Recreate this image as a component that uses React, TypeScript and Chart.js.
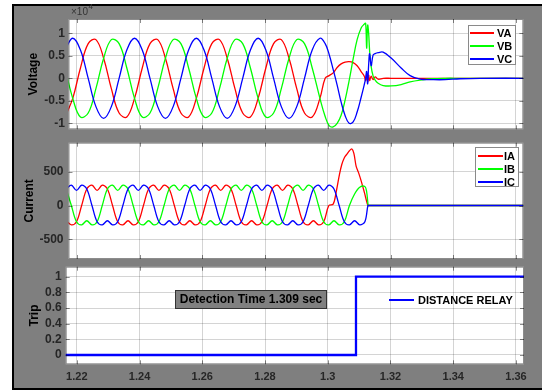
import React, { useEffect, useRef } from 'react';
import { Chart, registerables } from 'chart.js';

Chart.register(...registerables);
Chart.defaults.font.family = '"Liberation Sans", Arial, Helvetica, sans-serif';

// ---------- tick labels ----------
const timeTicks = [1.22, 1.24, 1.26, 1.28, 1.3, 1.32, 1.34, 1.36];
const voltageTicks = [-10000, -5000, 0, 5000, 10000];
const currentTicks = [-500, 0, 500];
const tripTicks = [0, 0.2, 0.4, 0.6, 0.8, 1];

// ---------- voltages (V) ----------
const voltageTime = [
  1.21624, 1.2187, 1.22116, 1.22363, 1.22609, 1.22855, 1.23101, 1.23348, 1.23594,
  1.2384, 1.24086, 1.24333, 1.24579, 1.24825, 1.25071, 1.25318, 1.25564,
  1.2581, 1.26056, 1.26303, 1.26549, 1.26795, 1.27041, 1.27288, 1.27534,
  1.2778, 1.28026, 1.28273, 1.28519, 1.28765, 1.29011, 1.29258, 1.29504,
  1.2975,
  1.29917, 1.30044, 1.30171, 1.30299, 1.30426, 1.30554, 1.30681, 1.30809, 1.30936, 1.31064,
  1.3116, 1.31207, 1.31239, 1.31271, 1.31303, 1.31335, 1.31383, 1.31446, 1.3151, 1.31606,
  1.31765, 1.3202, 1.32339, 1.32625, 1.32944, 1.33327, 1.33741, 1.34219, 1.34856, 1.365,
];
const vaValues = [
  -8600,
  -4450, 2300, 7710, 8600, 4450, -2300, -7710, -8600,
  -4450, 2300, 7710, 8600, 4450, -2300, -7710, -8600,
  -4450, 2300, 7710, 8600, 4450, -2300, -7710, -8600,
  -4450, 2300, 7710, 8600, 4450, -2300, -7710, -8600,
  -4450,
  0, 600, 1200, 2400, 3200, 3600, 3700, 3500, 2800, 1500,
  500, -500, 900, -800, 700, -500, 500, -300, 300, -200,
  0, 0, 0, 0, 0, 0, 0, 0, 0, 0,
];
const vbValues = [
  2300,
  -4450, -8600, -7710, -2300, 4450, 8600, 7710, 2300,
  -4450, -8600, -7710, -2300, 4450, 8600, 7710, 2300,
  -4450, -8600, -7710, -2300, 4450, 8600, 7710, 2300,
  -4450, -8600, -7710, -2300, 4450, 8600, 7710, 2300,
  -4450,
  -8500, -10500, -10800, -10000, -8200, -4800, -500, 4300, 8600, 11200,
  12000, 12200, 6700, 11800, 10000, 6000, 2600, 500, -400, -1100,
  -1600, -1700, -1400, -800, -400, -100, 0, 0, 0, 0,
];
const vcValues = [
  6290,
  8900, 6290, 0, -6290, -8900, -6290, 0, 6290,
  8900, 6290, 0, -6290, -8900, -6290, 0, 6290,
  8900, 6290, 0, -6290, -8900, -6290, 0, 6290,
  8900, 6290, 0, -6290, -8900, -6290, 0, 6290,
  8900,
  7700, 5300, 2000, -1500, -5300, -8300, -10000, -9700, -7500, -4200,
  -1500, 0, 1500, -1200, 3000, 5500, 2800, 5200, 5500, 5700,
  5800, 4500, 2300, 600, -200, -300, -300, -100, 0, 0,
];

// ---------- currents (A), before the fault ----------
const currentTime = [
  1.21662, 1.21826, 1.2199, 1.22154, 1.22318, 1.22483, 1.22647, 1.22811, 1.22975, 1.23139, 1.23303, 1.23468, 1.23632, 1.23796,
  1.2396, 1.24124, 1.24288, 1.24453, 1.24617, 1.24781, 1.24945, 1.25109, 1.25273, 1.25438, 1.25602, 1.25766,
  1.2593, 1.26094, 1.26258, 1.26423, 1.26587, 1.26751, 1.26915, 1.27079, 1.27243, 1.27408, 1.27572, 1.27736,
  1.279, 1.28064, 1.28228, 1.28393, 1.28557, 1.28721, 1.28885, 1.29049, 1.29213, 1.29378, 1.29542, 1.29706,
  1.2987,
];
const iaValues = [
  -225, -285,
  -240, 0, 245, 300, 225, 300, 245, 0, -240, -285, -225, -285,
  -240, 0, 245, 300, 225, 300, 245, 0, -240, -285, -225, -285,
  -240, 0, 245, 300, 225, 300, 245, 0, -240, -285, -225, -285,
  -240, 0, 245, 300, 225, 300, 245, 0, -240, -285, -225, -285,
  -240,
];
const ibValues = [
  245, 0,
  -240, -285, -225, -285, -240, 0, 245, 300, 225, 300, 245, 0,
  -240, -285, -225, -285, -240, 0, 245, 300, 225, 300, 245, 0,
  -240, -285, -225, -285, -240, 0, 245, 300, 225, 300, 245, 0,
  -240, -285, -225, -285, -240, 0, 245, 300, 225, 300, 245, 0,
  -240,
];
const icValues = [
  245, 300,
  225, 300, 245, 0, -240, -285, -225, -285, -240, 0, 245, 300,
  225, 300, 245, 0, -240, -285, -225, -285, -240, 0, 245, 300,
  225, 300, 245, 0, -240, -285, -225, -285, -240, 0, 245, 300,
  225, 300, 245, 0, -240, -285, -225, -285, -240, 0, 245, 300,
  225,
];

// ---------- currents (A), fault and breaker opening ----------
const iaFaultTime = [1.30034, 1.30172, 1.30268, 1.30373, 1.30449, 1.30532, 1.30618, 1.30691, 1.30768, 1.30832, 1.30905, 1.30978, 1.31064, 1.31169, 1.31277, 1.3131, 1.3136, 1.3145, 1.365];
const iaFaultValues = [0, 20, 200, 460, 610, 710, 765, 810, 835, 770, 580, 490, 365, 190, 0, 0, 0, 0, 0];
const ibFaultTime = [1.30034, 1.30198, 1.30363, 1.30527, 1.30691, 1.30855, 1.31019, 1.31183, 1.3124, 1.3129, 1.3132, 1.3137, 1.3146, 1.365];
const ibFaultValues = [-285, -225, -285, -240, 0, 170, 270, 280, 200, 0, 0, 0, 0, 0];
const icFaultTime = [1.30034, 1.30198, 1.30363, 1.30527, 1.30691, 1.30855, 1.31019, 1.31183, 1.3128, 1.3131, 1.3136, 1.3145, 1.365];
const icFaultValues = [300, 245, 0, -240, -285, -225, -285, -240, 0, 0, 0, 0, 0];

// ---------- trip signal ----------
const tripTime = [1.2, 1.309, 1.309, 1.4];
const tripValues = [0, 0, 1, 1];

const pts = (t: number[], v: number[]) => t.map((x, i) => ({ x, y: v[i] }));

const GRID = 'rgba(0,0,0,0.17)';
const TICK_COLOR = '#262626';

const framePlugin = {
  id: 'matlabFrame',
  beforeDraw(chart: any) {
    const { ctx, chartArea: a } = chart;
    ctx.save();
    ctx.fillStyle = '#ffffff';
    ctx.fillRect(a.left, a.top, a.right - a.left, a.bottom - a.top);
    ctx.restore();
  },
  afterDraw(chart: any) {
    const { ctx, chartArea: a, scales } = chart;
    ctx.save();
    ctx.strokeStyle = 'rgba(0,0,0,0.45)';
    ctx.lineWidth = 1;
    ctx.strokeRect(a.left + 0.5, a.top + 0.5, a.right - a.left - 1, a.bottom - a.top - 1);
    const L = 4;
    ctx.beginPath();
    scales.x.ticks.forEach((t: any) => {
      const p = Math.round(scales.x.getPixelForValue(t.value)) + 0.5;
      ctx.moveTo(p, a.bottom); ctx.lineTo(p, a.bottom - L);
      ctx.moveTo(p, a.top); ctx.lineTo(p, a.top + L);
    });
    scales.y.ticks.forEach((t: any) => {
      const p = Math.round(scales.y.getPixelForValue(t.value)) + 0.5;
      ctx.moveTo(a.left, p); ctx.lineTo(a.left + L, p);
      ctx.moveTo(a.right, p); ctx.lineTo(a.right - L, p);
    });
    ctx.stroke();
    ctx.restore();
  },
};

type PanelCfg = {
  datasets: any[];
  yMin: number; yMax: number; yTicks: number[]; yFmt: (v: number) => string;
  title: string; titlePad: number; yWidth: number; yPad: number;
  xMin: number; xMax: number; showX: boolean; xHeight: number;
  padding: { top: number; right: number; bottom: number; left: number };
};

function buildConfig(c: PanelCfg): any {
  return {
    type: 'line',
    data: { datasets: c.datasets },
    plugins: [framePlugin],
    options: {
      responsive: false,
      animation: false,
      devicePixelRatio: 1,
      events: [],
      layout: { padding: c.padding },
      plugins: { legend: { display: false }, tooltip: { enabled: false }, title: { display: false } },
      elements: { point: { radius: 0 } },
      scales: {
        x: {
          type: 'linear',
          min: c.xMin,
          max: c.xMax,
          afterBuildTicks: (s: any) => { s.ticks = timeTicks.map((v) => ({ value: v })); },
          afterFit: (s: any) => {
            s.height = c.xHeight;
            s.paddingLeft = 0; s.paddingRight = 0; s.paddingTop = 0; s.paddingBottom = 0;
          },
          grid: { color: GRID, lineWidth: 1, drawTicks: false },
          border: { display: false },
          ticks: {
            display: c.showX,
            padding: 6,
            color: TICK_COLOR,
            font: { size: 11, weight: 'bold' },
            maxRotation: 0,
            autoSkip: false,
            callback: (v: any) => String(Math.round(Number(v) * 100) / 100),
          },
        },
        y: {
          type: 'linear',
          min: c.yMin,
          max: c.yMax,
          afterBuildTicks: (s: any) => { s.ticks = c.yTicks.map((v) => ({ value: v })); },
          afterFit: (s: any) => {
            s.width = c.yWidth;
            s.paddingLeft = 0; s.paddingRight = 0; s.paddingTop = 0; s.paddingBottom = 0;
          },
          grid: { color: GRID, lineWidth: 1, drawTicks: false },
          border: { display: false },
          ticks: {
            padding: c.yPad,
            color: TICK_COLOR,
            font: { size: 12, weight: 'bold' },
            autoSkip: false,
            callback: (v: any) => c.yFmt(Number(v)),
          },
          title: {
            display: true,
            text: c.title,
            color: '#000',
            font: { size: 12, weight: 'bold' },
            padding: { top: c.titlePad, bottom: 0 },
          },
        },
      },
    },
  };
}

const X1_MIN = 1.21735, X1_MAX = 1.36233;
const X3_MIN = 1.21646, X3_MAX = 1.36256;

const line = (label: string, data: any[], color: string, order: number, extra: any = {}) => ({
  label, data, borderColor: color, backgroundColor: color, borderWidth: 1.3,
  pointRadius: 0, fill: false, order, ...extra,
});

const voltageCfg: PanelCfg = {
  datasets: [
    line('VA', pts(voltageTime, vaValues), '#ff0000', 3, { tension: 0.4 }),
    line('VB', pts(voltageTime, vbValues), '#00ff00', 2, { tension: 0.4 }),
    line('VC', pts(voltageTime, vcValues), '#0000ff', 1, { tension: 0.4 }),
  ],
  yMin: -11330, yMax: 13180, yTicks: voltageTicks,
  yFmt: (v) => String(Math.round(v / 1000) / 10),
  title: 'Voltage', titlePad: 26, yWidth: 68.5, yPad: 3.5,
  xMin: X1_MIN, xMax: X1_MAX, showX: false, xHeight: 0,
  padding: { top: 19, right: 18.7, bottom: 6.7, left: 0 },
};

const currentCfg: PanelCfg = {
  datasets: [
    line('IA', pts([...currentTime, ...iaFaultTime], [...iaValues, ...iaFaultValues]), '#ff0000', 3, { tension: 0.35 }),
    line('IB', pts([...currentTime, ...ibFaultTime], [...ibValues, ...ibFaultValues]), '#00ff00', 2, { tension: 0.35 }),
    line('IC', pts([...currentTime, ...icFaultTime], [...icValues, ...icFaultValues]), '#0000ff', 1, { tension: 0.35 }),
  ],
  yMin: -791, yMax: 929, yTicks: currentTicks,
  yFmt: (v) => String(Math.round(v)),
  title: 'Current', titlePad: 22.8, yWidth: 68.5, yPad: 5,
  xMin: X1_MIN, xMax: X1_MAX, showX: false, xHeight: 0,
  padding: { top: 6.7, right: 18.7, bottom: 3, left: 0 },
};

const tripCfg: PanelCfg = {
  datasets: [
    line('DISTANCE RELAY', pts(tripTime, tripValues), '#0000ff', 1, { borderWidth: 2.3, tension: 0 }),
  ],
  yMin: -0.119, yMax: 1.128, yTicks: tripTicks,
  yFmt: (v) => String(Math.round(v * 10) / 10),
  title: 'Trip', titlePad: 27.8, yWidth: 65.7, yPad: 4,
  xMin: X3_MIN, xMax: X3_MAX, showX: true, xHeight: 27.7,
  padding: { top: 4.7, right: 18, bottom: 0, left: 0 },
};

function Panel({ cfg, top, height }: { cfg: PanelCfg; top: number; height: number }) {
  const ref = useRef<HTMLCanvasElement>(null);
  useEffect(() => {
    if (!ref.current) return;
    const chart = new Chart(ref.current, buildConfig(cfg));
    return () => chart.destroy();
  }, [cfg]);
  return (
    <canvas
      ref={ref}
      width={542}
      height={height}
      style={{ position: 'absolute', left: 0, top, width: 542, height, display: 'block' }}
    />
  );
}

type LegendItem = { label: string; color: string; y: number };

function Legend({ box, items, x1, x2, textX, lw }: {
  box: { left: number; top: number; width: number; height: number } | null;
  items: LegendItem[]; x1: number; x2: number; textX: number; lw: number;
}) {
  return (
    <>
      {box && (
        <div style={{
          position: 'absolute', left: box.left, top: box.top, width: box.width, height: box.height,
          boxSizing: 'border-box', background: '#fff', border: '1px solid #8a8a8a',
        }} />
      )}
      {items.map((it) => (
        <React.Fragment key={it.label}>
          <div style={{ position: 'absolute', left: x1, top: Math.round(it.y - lw / 2), width: x2 - x1, height: lw, background: it.color }} />
          <div style={{
            position: 'absolute', left: textX, top: Math.round(it.y - 7), height: 14, lineHeight: '14px',
            fontSize: 11, fontWeight: 'bold', color: '#000', whiteSpace: 'nowrap',
          }}>{it.label}</div>
        </React.Fragment>
      ))}
    </>
  );
}

export default function App() {
  return (
    <div style={{
      position: 'fixed', left: 0, top: 0, width: 542, height: 392, background: '#fff', overflow: 'hidden',
      fontFamily: '"Liberation Sans", Arial, Helvetica, sans-serif',
    }}>
      <div style={{
        position: 'absolute', left: 12, top: 4, width: 530, height: 386, boxSizing: 'border-box',
        background: '#7f7f7f', borderTop: '2px solid #000', borderLeft: '2px solid #000', borderBottom: '2px solid #000',
      }} />
      <Panel cfg={voltageCfg} top={0} height={136} />
      <Panel cfg={currentCfg} top={136} height={126} />
      <Panel cfg={tripCfg} top={262} height={130} />

      <div style={{ position: 'absolute', left: 71, top: 6, fontSize: 10, lineHeight: '12px', color: '#333', whiteSpace: 'nowrap' }}>×10</div>
      <div style={{ position: 'absolute', left: 88.5, top: 2, fontSize: 8, lineHeight: '9px', color: '#333' }}>4</div>

      <Legend
        box={{ left: 468, top: 25, width: 48, height: 40 }}
        items={[
          { label: 'VA', color: '#ff0000', y: 33 },
          { label: 'VB', color: '#00ff00', y: 46 },
          { label: 'VC', color: '#0000ff', y: 59 },
        ]}
        x1={470} x2={494} textX={497} lw={2}
      />
      <Legend
        box={{ left: 475, top: 147, width: 44, height: 40 }}
        items={[
          { label: 'IA', color: '#ff0000', y: 156 },
          { label: 'IB', color: '#00ff00', y: 169 },
          { label: 'IC', color: '#0000ff', y: 182 },
        ]}
        x1={478} x2={503} textX={504} lw={2}
      />
      <Legend
        box={null}
        items={[{ label: 'DISTANCE RELAY', color: '#0000ff', y: 300 }]}
        x1={389} x2={414} textX={418} lw={2}
      />

      <div style={{
        position: 'absolute', left: 175, top: 290, width: 152, height: 18.5, boxSizing: 'border-box',
        background: '#808080', border: '1px solid #333', fontSize: 12, fontWeight: 'bold', color: '#000',
        lineHeight: '16.5px', textAlign: 'center', whiteSpace: 'nowrap',
      }}>Detection Time 1.309 sec</div>
    </div>
  );
}
